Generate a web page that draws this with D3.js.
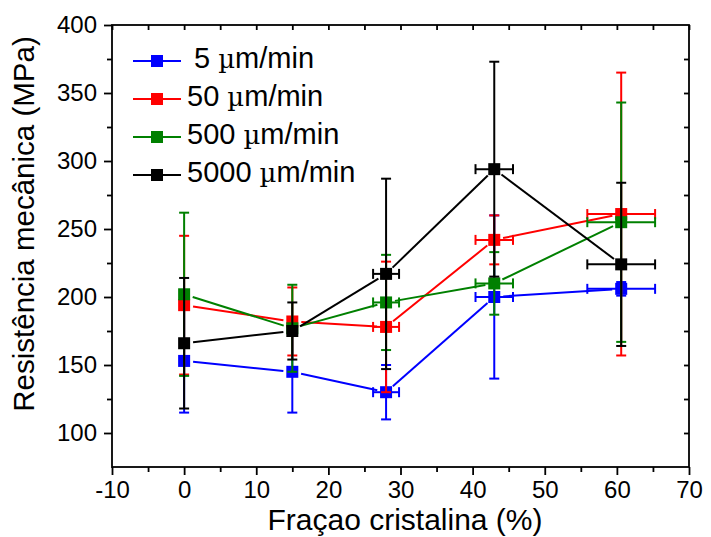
<!DOCTYPE html>
<html>
<head>
<meta charset="utf-8">
<script src="https://cdn.jsdelivr.net/npm/d3@7"></script>
<style>
  body { margin: 0; background: #fff; }
  text { font-family: "Liberation Sans", Arial, sans-serif; }
</style>
</head>
<body>
<script>
const w = 711;
const h = 537;

// data
const seriesNames = ["5", "50", "500", "5000"];
const seriesColors = ["#0000ff", "#ff0000", "#008000", "#000000"];
const fractions = [0, 15, 28, 43, 60.6];
const xErr = [0, 0, 1.8, 2.6, 4.7];

const vals5 = [153, 145, 130, 200, 206];
const vals50 = [194, 182, 178, 242, 261];
const vals500 = [202, 177, 196, 210, 255];
const vals5000 = [166, 175, 217, 294, 224];

const err5 = [38, 30, 20, 60, 5];
const err50 = [51, 25, 48, 18, 104];
const err500 = [60, 32, 35, 23, 88];
const err5000 = [48, 21, 70, 79, 60];

const yTicks = [100, 150, 200, 250, 300, 350, 400];
const xTicks = [-10, 0, 10, 20, 30, 40, 50, 60, 70];

const allVals = [vals5, vals50, vals500, vals5000];
const allErr = [err5, err50, err500, err5000];

const m = {left: 112, right: 22, top: 25, bottom: 70};

const x = d3.scaleLinear().domain([-10, 70]).range([m.left, w - m.right]);
const y = d3.scaleLinear().domain([75, 400]).range([h - m.bottom, m.top]);

const svg = d3.select("body")
  .append("svg")
  .attr("width", w)
  .attr("height", h);

// frame
svg.append("rect")
  .attr("x", x(-10)).attr("y", y(400))
  .attr("width", x(70) - x(-10)).attr("height", y(75) - y(400))
  .attr("fill", "none").attr("stroke", "#000").attr("stroke-width", 1.8);

// bottom axis (outward ticks) + minor
const xAxis = svg.append("g")
  .attr("transform", `translate(0,${y(75)})`)
  .call(d3.axisBottom(x).tickValues(xTicks).tickFormat(d => String(d)).tickSize(8).tickSizeOuter(0).tickPadding(6));
xAxis.select(".domain").remove();
xAxis.selectAll("line").attr("stroke-width", 1.8);
xAxis.selectAll("text").attr("font-size", 24).attr("fill", "#000");

svg.append("g")
  .attr("transform", `translate(0,${y(75)})`)
  .call(d3.axisBottom(x).tickValues(d3.range(-5, 70, 10)).tickSize(5).tickFormat(""))
  .call(g => g.select(".domain").remove())
  .selectAll("line").attr("stroke-width", 1.8);

// left axis
const yAxis = svg.append("g")
  .attr("transform", `translate(${x(-10)},0)`)
  .call(d3.axisLeft(y).tickValues(yTicks).tickSize(8).tickPadding(7));
yAxis.select(".domain").remove();
yAxis.selectAll("line").attr("stroke-width", 1.8);
yAxis.selectAll("text").attr("font-size", 24).attr("fill", "#000");

svg.append("g")
  .attr("transform", `translate(${x(-10)},0)`)
  .call(d3.axisLeft(y).tickValues(d3.range(125, 400, 50)).tickSize(5).tickFormat(""))
  .call(g => g.select(".domain").remove())
  .selectAll("line").attr("stroke-width", 1.8);

// mirror ticks, inward, on top and right
svg.append("g")
  .attr("transform", `translate(0,${y(400)})`)
  .call(d3.axisBottom(x).tickValues(d3.range(-10, 71, 5)).tickSize(5).tickFormat(""))
  .call(g => g.select(".domain").remove())
  .selectAll("line").attr("stroke-width", 1.8);

svg.append("g")
  .attr("transform", `translate(${x(70)},0)`)
  .call(d3.axisLeft(y).tickValues(d3.range(100, 400, 25)).tickSize(5).tickFormat(""))
  .call(g => g.select(".domain").remove())
  .selectAll("line").attr("stroke-width", 1.8);

// axis titles
svg.append("text")
  .attr("x", 405).attr("y", 530)
  .attr("text-anchor", "middle")
  .attr("font-size", 30)
  .text("Fraçao cristalina (%)");

svg.append("text")
  .attr("transform", `translate(34,224) rotate(-90)`)
  .attr("text-anchor", "middle")
  .attr("font-size", 29.5)
  .text("Resistência mecânica (MPa)");

// series
const gap = 9;
const cap = 5;
const ms = 12;

seriesNames.forEach((name, si) => {
  const col = seriesColors[si];
  const pts = fractions.map((f, i) => ({f: f, v: allVals[si][i], e: allErr[si][i], xe: xErr[i]}));
  const g = svg.append("g");

  // connecting lines with small gaps at the markers
  for (let i = 0; i < pts.length - 1; i++) {
    const x1 = x(pts[i].f), y1 = y(pts[i].v), x2 = x(pts[i + 1].f), y2 = y(pts[i + 1].v);
    const len = Math.hypot(x2 - x1, y2 - y1);
    const ux = (x2 - x1) / len, uy = (y2 - y1) / len;
    g.append("line")
      .attr("x1", x1 + ux * gap).attr("y1", y1 + uy * gap)
      .attr("x2", x2 - ux * gap).attr("y2", y2 - uy * gap)
      .attr("stroke", col).attr("stroke-width", 2);
  }

  // vertical error bars
  const eb = g.selectAll(".eb").data(pts).enter().append("g");
  eb.append("line")
    .attr("x1", d => x(d.f)).attr("x2", d => x(d.f))
    .attr("y1", d => y(d.v + d.e)).attr("y2", d => y(d.v - d.e))
    .attr("stroke", col).attr("stroke-width", 2);
  eb.append("line")
    .attr("x1", d => x(d.f) - cap).attr("x2", d => x(d.f) + cap)
    .attr("y1", d => y(d.v + d.e)).attr("y2", d => y(d.v + d.e))
    .attr("stroke", col).attr("stroke-width", 2);
  eb.append("line")
    .attr("x1", d => x(d.f) - cap).attr("x2", d => x(d.f) + cap)
    .attr("y1", d => y(d.v - d.e)).attr("y2", d => y(d.v - d.e))
    .attr("stroke", col).attr("stroke-width", 2);

  // horizontal error bars
  const hb = g.selectAll(".hb").data(pts.filter(d => d.xe > 0)).enter().append("g");
  hb.append("line")
    .attr("x1", d => x(d.f - d.xe)).attr("x2", d => x(d.f + d.xe))
    .attr("y1", d => y(d.v)).attr("y2", d => y(d.v))
    .attr("stroke", col).attr("stroke-width", 2);
  hb.append("line")
    .attr("x1", d => x(d.f - d.xe)).attr("x2", d => x(d.f - d.xe))
    .attr("y1", d => y(d.v) - cap).attr("y2", d => y(d.v) + cap)
    .attr("stroke", col).attr("stroke-width", 2);
  hb.append("line")
    .attr("x1", d => x(d.f + d.xe)).attr("x2", d => x(d.f + d.xe))
    .attr("y1", d => y(d.v) - cap).attr("y2", d => y(d.v) + cap)
    .attr("stroke", col).attr("stroke-width", 2);

  // markers
  g.selectAll("rect").data(pts).enter().append("rect")
    .attr("x", d => x(d.f) - ms / 2).attr("y", d => y(d.v) - ms / 2)
    .attr("width", ms).attr("height", ms)
    .attr("fill", col);
});

// legend
const legend = svg.append("g").attr("id", "legend");
seriesNames.forEach((name, i) => {
  const ly = 61 + i * 38;
  const col = seriesColors[i];
  legend.append("line")
    .attr("x1", 133).attr("x2", 181).attr("y1", ly).attr("y2", ly)
    .attr("stroke", col).attr("stroke-width", 2);
  legend.append("rect")
    .attr("x", 151).attr("y", ly - 6).attr("width", 12).attr("height", 12)
    .attr("fill", col);
  const t = legend.append("text")
    .attr("x", i === 0 ? 194 : 187).attr("y", ly + 7)
    .attr("font-size", 29);
  t.append("tspan").text(name + " ");
  t.append("tspan").attr("font-family", "'DejaVu Serif', 'Liberation Serif', serif").attr("font-size", 26).text("µ");
  t.append("tspan").text("m/min");
});
</script>
</body>
</html>
